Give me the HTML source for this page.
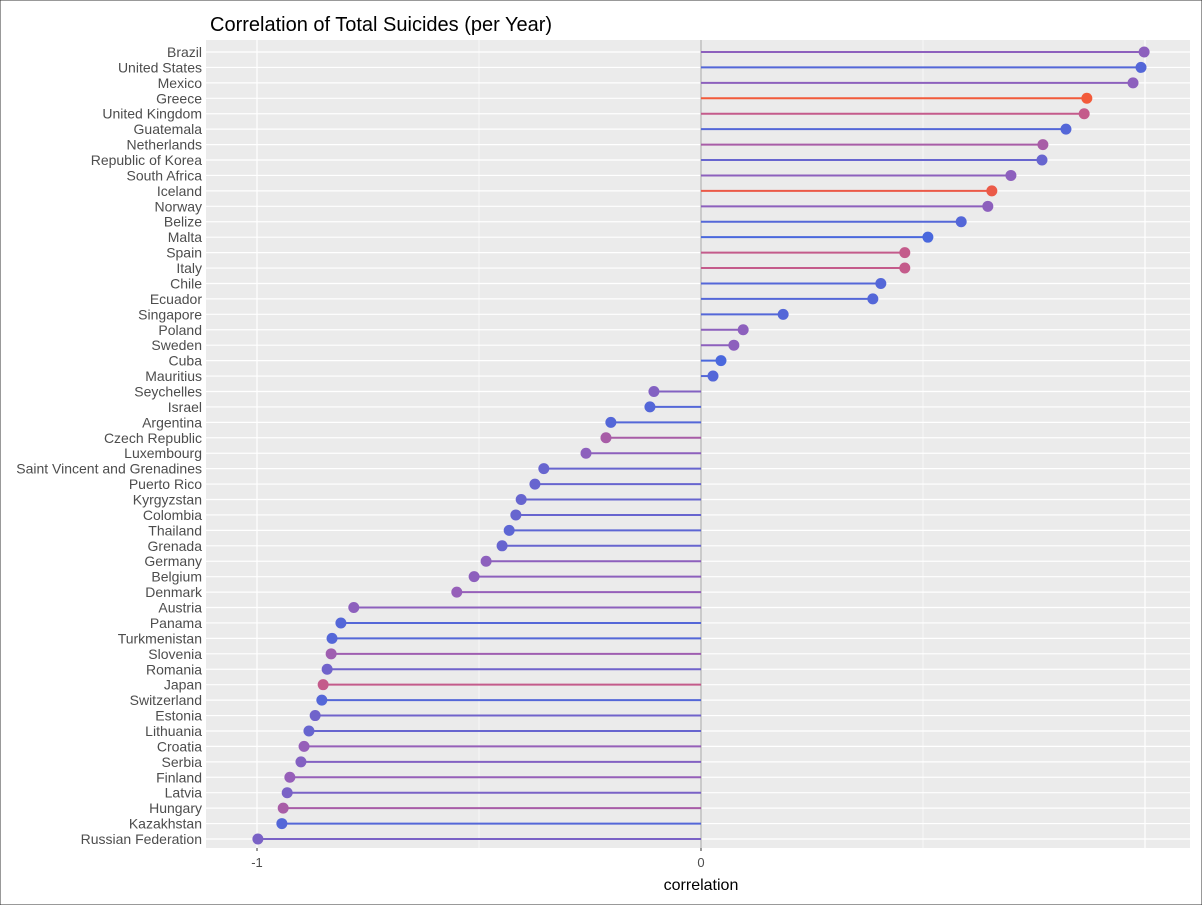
<!DOCTYPE html>
<html><head><meta charset="utf-8"><style>
html,body{margin:0;padding:0;background:#fff;}
svg{display:block;font-family:"Liberation Sans",Arial,sans-serif;}
</style></head><body>
<svg id="chart" width="1202" height="905" viewBox="0 0 1202 905" xmlns="http://www.w3.org/2000/svg">
<rect x="0" y="0" width="1202" height="905" fill="#fff" stroke="#333" stroke-width="1"/>
<text x="210" y="31" font-size="20" fill="#000">Correlation of Total Suicides (per Year)</text>
<rect x="206" y="40" width="984" height="808" fill="#EBEBEB"/>
<g id="grid"></g>
<g id="marks"></g>
<g id="axes"></g>
<text x="701" y="890" font-size="16" text-anchor="middle" fill="#000">correlation</text>
</svg>
<script>
const countries=["Brazil","United States","Mexico","Greece","United Kingdom","Guatemala","Netherlands","Republic of Korea","South Africa","Iceland","Norway","Belize","Malta","Spain","Italy","Chile","Ecuador","Singapore","Poland","Sweden","Cuba","Mauritius","Seychelles","Israel","Argentina","Czech Republic","Luxembourg","Saint Vincent and Grenadines","Puerto Rico","Kyrgyzstan","Colombia","Thailand","Grenada","Germany","Belgium","Denmark","Austria","Panama","Turkmenistan","Slovenia","Romania","Japan","Switzerland","Estonia","Lithuania","Croatia","Serbia","Finland","Latvia","Hungary","Kazakhstan","Russian Federation"];
const correlation=[0.998,0.991,0.973,0.869,0.863,0.822,0.770,0.768,0.698,0.655,0.646,0.586,0.511,0.459,0.459,0.405,0.387,0.185,0.095,0.074,0.045,0.027,-0.106,-0.115,-0.203,-0.214,-0.259,-0.354,-0.374,-0.405,-0.417,-0.432,-0.448,-0.484,-0.511,-0.550,-0.782,-0.811,-0.831,-0.833,-0.842,-0.851,-0.854,-0.869,-0.883,-0.894,-0.901,-0.926,-0.932,-0.941,-0.944,-0.998];
const colorValue=[0.4,0.1,0.4,1,0.7,0.1,0.55,0.2,0.4,0.95,0.4,0.1,0.05,0.7,0.7,0.1,0.1,0.1,0.4,0.4,0.05,0.1,0.35,0.1,0.1,0.55,0.4,0.2,0.2,0.2,0.2,0.15,0.2,0.4,0.4,0.45,0.4,0.1,0.1,0.5,0.25,0.7,0.1,0.25,0.2,0.45,0.35,0.45,0.3,0.55,0.1,0.3];
const xTicks=[-1,0];
const xGrid=[-1,-0.5,0,0.5,1];

const NS="http://www.w3.org/2000/svg";
const x0=701, xs=444;
const xScale=v=>x0+v*xs;
const yTop=52, yStep=(839-52)/(countries.length-1);
const yScale=i=>yTop+i*yStep;
function col(t){
  const stops=[[0,[65,105,225]],[0.45,[150,95,185]],[0.75,[205,90,130]],[1,[242,90,58]]];
  for(let k=1;k<stops.length;k++){
    if(t<=stops[k][0]){const a=stops[k-1],b=stops[k];const f=(t-a[0])/(b[0]-a[0]);
      return "rgb("+a[1].map((c,j)=>Math.round(c+(b[1][j]-c)*f)).join(",")+")";}
  }
  return "rgb(242,90,58)";
}
function mk(tag,attrs,parent){const e=document.createElementNS(NS,tag);for(const k in attrs)e.setAttribute(k,attrs[k]);parent.appendChild(e);return e;}
const grid=document.getElementById("grid"),marks=document.getElementById("marks"),axes=document.getElementById("axes");
xGrid.forEach(v=>{
  const l=mk("line",{x1:xScale(v),x2:xScale(v),y1:40,y2:848,stroke:"#fff","stroke-width":v%1===0?1.2:0.6},grid);
  
  
});
countries.forEach((c,i)=>{
  const y=yScale(i);
  const g=mk("line",{x1:206,x2:1190,y1:y,y2:y,stroke:"#fff","stroke-width":1.2},grid);
  
  
});
const zl=mk("line",{x1:x0,x2:x0,y1:40,y2:848,stroke:"#bdbdbd","stroke-width":1.5},grid);


countries.forEach((c,i)=>{
  const y=yScale(i),x=xScale(correlation[i]),cl=col(colorValue[i]);
  const s=mk("line",{x1:x0,x2:x,y1:y,y2:y,stroke:cl,"stroke-width":2},marks);
  
  
  const d=mk("circle",{cx:x,cy:y,r:5.5,fill:cl},marks);
  
  
  const t=mk("text",{x:202,y:y+5,"font-size":14,"text-anchor":"end",fill:"#4d4d4d"},axes);
  t.textContent=c;
  
  
});
xTicks.forEach(v=>{
  const tk=mk("line",{x1:xScale(v),x2:xScale(v),y1:848,y2:851,stroke:"#333"},axes);
  
  
  const t=mk("text",{x:xScale(v),y:867,"font-size":13,"text-anchor":"middle",fill:"#4d4d4d"},axes);
  t.textContent=String(v);
  
  
});
</script>
</body></html>
